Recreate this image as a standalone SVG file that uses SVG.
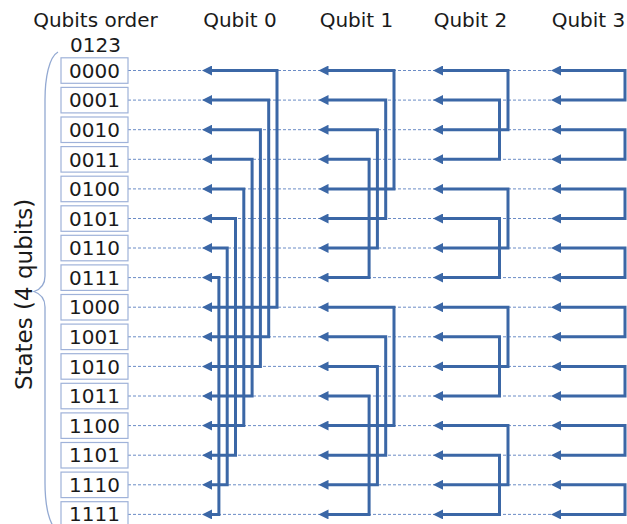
<svg xmlns="http://www.w3.org/2000/svg" width="627" height="524" viewBox="0 0 627 524">
  <style>
    text { font-family: "DejaVu Sans", "Liberation Sans", sans-serif; fill: #1a1a1a; }
    .hdr { font-size: 20px; text-anchor: middle; }
    .lbl { font-size: 20px; text-anchor: middle; }
    .box { fill: #ffffff; stroke: #9fb2d9; stroke-width: 1.2; }
    .guide { stroke: #5a7fc0; stroke-width: 0.9; stroke-dasharray: 3 2; fill: none; }
    .link { fill: none; stroke: #3b67a6; stroke-width: 3; stroke-linejoin: miter; marker-start: url(#head); marker-end: url(#head); }
    .brace { fill: none; stroke: #93a9d2; stroke-width: 1.3; }
  </style>
  <defs>
    <marker id="head" viewBox="0 0 10 10" refX="2" refY="5" markerWidth="10" markerHeight="10" markerUnits="userSpaceOnUse" orient="auto-start-reverse">
      <path d="M0,0 L10,5 L0,10 Z" fill="#3b67a6"/>
    </marker>
  </defs>

  <!-- column titles -->
  <g id="titles">
    <text class="hdr" x="95.5" y="27.3">Qubits order</text>
    <text class="hdr" x="95.5" y="51.7">0123</text>
    <text class="hdr" x="240" y="27.3">Qubit 0</text>
    <text class="hdr" x="356.5" y="27.3">Qubit 1</text>
    <text class="hdr" x="470.5" y="27.3">Qubit 2</text>
    <text class="hdr" x="588.5" y="27.3">Qubit 3</text>
  </g>

  <!-- side label with brace -->
  <g id="states-label">
    <path class="brace" d="M58,52 C49,57 45,78 45,100 L45,276 C45,285 40,289.5 34,291.5 C40,293.5 45,298 45,307 L45,483 C45,505 49,526 58,531"/>
    <text transform="translate(32,294.5) rotate(-90)" style="font-size:23px;text-anchor:middle">States (4 qubits)</text>
  </g>

  <!-- dashed guides per state row -->
  <g id="guides">
    <line class="guide" x1="128" y1="70.5" x2="627" y2="70.5"/>
    <line class="guide" x1="128" y1="100.1" x2="627" y2="100.1"/>
    <line class="guide" x1="128" y1="129.7" x2="627" y2="129.7"/>
    <line class="guide" x1="128" y1="159.3" x2="627" y2="159.3"/>
    <line class="guide" x1="128" y1="188.9" x2="627" y2="188.9"/>
    <line class="guide" x1="128" y1="218.5" x2="627" y2="218.5"/>
    <line class="guide" x1="128" y1="248.0" x2="627" y2="248.0"/>
    <line class="guide" x1="128" y1="277.6" x2="627" y2="277.6"/>
    <line class="guide" x1="128" y1="307.2" x2="627" y2="307.2"/>
    <line class="guide" x1="128" y1="336.8" x2="627" y2="336.8"/>
    <line class="guide" x1="128" y1="366.4" x2="627" y2="366.4"/>
    <line class="guide" x1="128" y1="396.0" x2="627" y2="396.0"/>
    <line class="guide" x1="128" y1="425.6" x2="627" y2="425.6"/>
    <line class="guide" x1="128" y1="455.2" x2="627" y2="455.2"/>
    <line class="guide" x1="128" y1="484.8" x2="627" y2="484.8"/>
    <line class="guide" x1="128" y1="514.4" x2="627" y2="514.4"/>
  </g>

  <!-- state nodes -->
  <g id="s0000"><rect class="box" x="61" y="57.8" width="67" height="25.5"/><text class="lbl" x="94.5" y="77.7">0000</text></g>
  <g id="s0001"><rect class="box" x="61" y="87.4" width="67" height="25.5"/><text class="lbl" x="94.5" y="107.3">0001</text></g>
  <g id="s0010"><rect class="box" x="61" y="117.0" width="67" height="25.5"/><text class="lbl" x="94.5" y="136.9">0010</text></g>
  <g id="s0011"><rect class="box" x="61" y="146.6" width="67" height="25.5"/><text class="lbl" x="94.5" y="166.5">0011</text></g>
  <g id="s0100"><rect class="box" x="61" y="176.2" width="67" height="25.5"/><text class="lbl" x="94.5" y="196.1">0100</text></g>
  <g id="s0101"><rect class="box" x="61" y="205.8" width="67" height="25.5"/><text class="lbl" x="94.5" y="225.7">0101</text></g>
  <g id="s0110"><rect class="box" x="61" y="235.3" width="67" height="25.5"/><text class="lbl" x="94.5" y="255.2">0110</text></g>
  <g id="s0111"><rect class="box" x="61" y="264.9" width="67" height="25.5"/><text class="lbl" x="94.5" y="284.8">0111</text></g>
  <g id="s1000"><rect class="box" x="61" y="294.5" width="67" height="25.5"/><text class="lbl" x="94.5" y="314.4">1000</text></g>
  <g id="s1001"><rect class="box" x="61" y="324.1" width="67" height="25.5"/><text class="lbl" x="94.5" y="344.0">1001</text></g>
  <g id="s1010"><rect class="box" x="61" y="353.7" width="67" height="25.5"/><text class="lbl" x="94.5" y="373.6">1010</text></g>
  <g id="s1011"><rect class="box" x="61" y="383.3" width="67" height="25.5"/><text class="lbl" x="94.5" y="403.2">1011</text></g>
  <g id="s1100"><rect class="box" x="61" y="412.9" width="67" height="25.5"/><text class="lbl" x="94.5" y="432.8">1100</text></g>
  <g id="s1101"><rect class="box" x="61" y="442.5" width="67" height="25.5"/><text class="lbl" x="94.5" y="462.4">1101</text></g>
  <g id="s1110"><rect class="box" x="61" y="472.1" width="67" height="25.5"/><text class="lbl" x="94.5" y="492.0">1110</text></g>
  <g id="s1111"><rect class="box" x="61" y="501.7" width="67" height="25.5"/><text class="lbl" x="94.5" y="521.4">1111</text></g>

  <!-- swap connectors: each pairs two states differing in one qubit -->
  <g id="connectors">
    <!-- qubit 0: i <-> i+8 -->
    <path class="link" d="M210,70.5 H277 V307.2 H210"/>
    <path class="link" d="M210,100.1 H268.7 V336.8 H210"/>
    <path class="link" d="M210,129.7 H260.4 V366.4 H210"/>
    <path class="link" d="M210,159.3 H252.1 V396.0 H210"/>
    <path class="link" d="M210,188.9 H243.8 V425.6 H210"/>
    <path class="link" d="M210,218.5 H235.5 V455.2 H210"/>
    <path class="link" d="M210,248.0 H227.2 V484.8 H210"/>
    <path class="link" d="M210,277.6 H218.9 V514.4 H210"/>
    <!-- qubit 1: i <-> i+4 -->
    <path class="link" d="M326.5,70.5 H394 V188.9 H326.5"/>
    <path class="link" d="M326.5,100.1 H385.7 V218.5 H326.5"/>
    <path class="link" d="M326.5,129.7 H377.4 V248.0 H326.5"/>
    <path class="link" d="M326.5,159.3 H369.1 V277.6 H326.5"/>
    <path class="link" d="M326.5,307.2 H394 V425.6 H326.5"/>
    <path class="link" d="M326.5,336.8 H385.7 V455.2 H326.5"/>
    <path class="link" d="M326.5,366.4 H377.4 V484.8 H326.5"/>
    <path class="link" d="M326.5,396.0 H369.1 V514.4 H326.5"/>
    <!-- qubit 2: i <-> i+2 -->
    <path class="link" d="M441,70.5 H508 V129.7 H441"/>
    <path class="link" d="M441,100.1 H499.5 V159.3 H441"/>
    <path class="link" d="M441,188.9 H508 V248.0 H441"/>
    <path class="link" d="M441,218.5 H499.5 V277.6 H441"/>
    <path class="link" d="M441,307.2 H508 V366.4 H441"/>
    <path class="link" d="M441,336.8 H499.5 V396.0 H441"/>
    <path class="link" d="M441,425.6 H508 V484.8 H441"/>
    <path class="link" d="M441,455.2 H499.5 V514.4 H441"/>
    <!-- qubit 3: i <-> i+1 -->
    <path class="link" d="M559,70.5 H625 V100.1 H559"/>
    <path class="link" d="M559,129.7 H625 V159.3 H559"/>
    <path class="link" d="M559,188.9 H625 V218.5 H559"/>
    <path class="link" d="M559,248.0 H625 V277.6 H559"/>
    <path class="link" d="M559,307.2 H625 V336.8 H559"/>
    <path class="link" d="M559,366.4 H625 V396.0 H559"/>
    <path class="link" d="M559,425.6 H625 V455.2 H559"/>
    <path class="link" d="M559,484.8 H625 V514.4 H559"/>
  </g>
</svg>
